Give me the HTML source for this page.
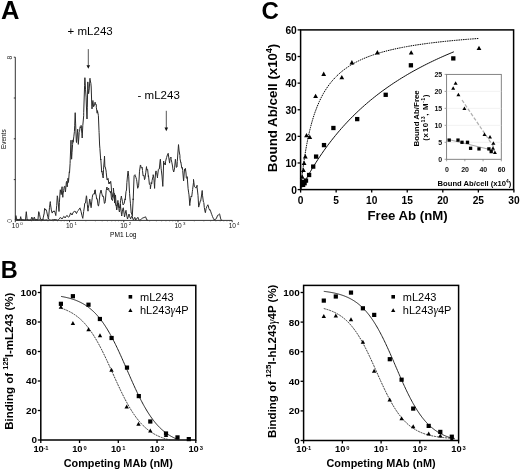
<!DOCTYPE html>
<html><head><meta charset="utf-8"><style>
html,body{margin:0;padding:0;background:#fff;}
svg{display:block;font-family:"Liberation Sans", sans-serif;filter:grayscale(1) blur(0.35px);}
</style></head><body>
<svg width="520" height="473" viewBox="0 0 520 473">
<rect width="520" height="473" fill="#fff"/>
<text x="1" y="19.2" font-size="25.5" font-weight="bold" text-anchor="start" fill="#000" >A</text>
<text x="67.6" y="35" font-size="11.5" font-weight="normal" text-anchor="start" fill="#000" >+ mL243</text>
<text x="137.6" y="98.6" font-size="11.5" font-weight="normal" text-anchor="start" fill="#000" >- mL243</text>
<line x1="88.3" y1="49.1" x2="88.3" y2="65.8" stroke="#444" stroke-width="0.9"/>
<polygon points="86.5,65.2 90.1,65.2 88.3,68.8" fill="#111"/>
<line x1="166.3" y1="110.8" x2="166.3" y2="128.2" stroke="#444" stroke-width="0.9"/>
<polygon points="164.5,127.6 168.1,127.6 166.3,131.2" fill="#111"/>
<path d="M15.3,57.2 V220.4 H232.2" fill="none" stroke="#333" stroke-width="1.0"/>
<line x1="13.8" y1="57.2" x2="15.3" y2="57.2" stroke="#222" stroke-width="0.9"/>
<line x1="13.8" y1="98.0" x2="15.3" y2="98.0" stroke="#222" stroke-width="0.9"/>
<line x1="13.8" y1="138.8" x2="15.3" y2="138.8" stroke="#222" stroke-width="0.9"/>
<line x1="13.8" y1="179.6" x2="15.3" y2="179.6" stroke="#222" stroke-width="0.9"/>
<line x1="15.3" y1="220.4" x2="15.3" y2="222.2" stroke="#222" stroke-width="0.9"/>
<line x1="31.62" y1="220.4" x2="31.62" y2="221.4" stroke="#444" stroke-width="0.6"/>
<line x1="41.17" y1="220.4" x2="41.17" y2="221.4" stroke="#444" stroke-width="0.6"/>
<line x1="47.95" y1="220.4" x2="47.95" y2="221.4" stroke="#444" stroke-width="0.6"/>
<line x1="53.2" y1="220.4" x2="53.2" y2="221.4" stroke="#444" stroke-width="0.6"/>
<line x1="57.5" y1="220.4" x2="57.5" y2="221.4" stroke="#444" stroke-width="0.6"/>
<line x1="61.13" y1="220.4" x2="61.13" y2="221.4" stroke="#444" stroke-width="0.6"/>
<line x1="64.27" y1="220.4" x2="64.27" y2="221.4" stroke="#444" stroke-width="0.6"/>
<line x1="67.04" y1="220.4" x2="67.04" y2="221.4" stroke="#444" stroke-width="0.6"/>
<text x="15.4" y="228.4" font-size="6.6" font-weight="normal" text-anchor="middle" fill="#111" >10</text>
<text x="20.2" y="225" font-size="4.4" font-weight="normal" text-anchor="start" fill="#111" >0</text>
<line x1="69.52" y1="220.4" x2="69.52" y2="222.2" stroke="#222" stroke-width="0.9"/>
<line x1="85.85" y1="220.4" x2="85.85" y2="221.4" stroke="#444" stroke-width="0.6"/>
<line x1="95.4" y1="220.4" x2="95.4" y2="221.4" stroke="#444" stroke-width="0.6"/>
<line x1="102.17" y1="220.4" x2="102.17" y2="221.4" stroke="#444" stroke-width="0.6"/>
<line x1="107.43" y1="220.4" x2="107.43" y2="221.4" stroke="#444" stroke-width="0.6"/>
<line x1="111.72" y1="220.4" x2="111.72" y2="221.4" stroke="#444" stroke-width="0.6"/>
<line x1="115.35" y1="220.4" x2="115.35" y2="221.4" stroke="#444" stroke-width="0.6"/>
<line x1="118.5" y1="220.4" x2="118.5" y2="221.4" stroke="#444" stroke-width="0.6"/>
<line x1="121.27" y1="220.4" x2="121.27" y2="221.4" stroke="#444" stroke-width="0.6"/>
<text x="69.62" y="228.4" font-size="6.6" font-weight="normal" text-anchor="middle" fill="#111" >10</text>
<text x="74.42" y="225" font-size="4.4" font-weight="normal" text-anchor="start" fill="#111" >1</text>
<line x1="123.75" y1="220.4" x2="123.75" y2="222.2" stroke="#222" stroke-width="0.9"/>
<line x1="140.07" y1="220.4" x2="140.07" y2="221.4" stroke="#444" stroke-width="0.6"/>
<line x1="149.62" y1="220.4" x2="149.62" y2="221.4" stroke="#444" stroke-width="0.6"/>
<line x1="156.4" y1="220.4" x2="156.4" y2="221.4" stroke="#444" stroke-width="0.6"/>
<line x1="161.65" y1="220.4" x2="161.65" y2="221.4" stroke="#444" stroke-width="0.6"/>
<line x1="165.95" y1="220.4" x2="165.95" y2="221.4" stroke="#444" stroke-width="0.6"/>
<line x1="169.58" y1="220.4" x2="169.58" y2="221.4" stroke="#444" stroke-width="0.6"/>
<line x1="172.72" y1="220.4" x2="172.72" y2="221.4" stroke="#444" stroke-width="0.6"/>
<line x1="175.49" y1="220.4" x2="175.49" y2="221.4" stroke="#444" stroke-width="0.6"/>
<text x="123.85" y="228.4" font-size="6.6" font-weight="normal" text-anchor="middle" fill="#111" >10</text>
<text x="128.65" y="225" font-size="4.4" font-weight="normal" text-anchor="start" fill="#111" >2</text>
<line x1="177.97" y1="220.4" x2="177.97" y2="222.2" stroke="#222" stroke-width="0.9"/>
<line x1="194.3" y1="220.4" x2="194.3" y2="221.4" stroke="#444" stroke-width="0.6"/>
<line x1="203.85" y1="220.4" x2="203.85" y2="221.4" stroke="#444" stroke-width="0.6"/>
<line x1="210.62" y1="220.4" x2="210.62" y2="221.4" stroke="#444" stroke-width="0.6"/>
<line x1="215.88" y1="220.4" x2="215.88" y2="221.4" stroke="#444" stroke-width="0.6"/>
<line x1="220.17" y1="220.4" x2="220.17" y2="221.4" stroke="#444" stroke-width="0.6"/>
<line x1="223.8" y1="220.4" x2="223.8" y2="221.4" stroke="#444" stroke-width="0.6"/>
<line x1="226.95" y1="220.4" x2="226.95" y2="221.4" stroke="#444" stroke-width="0.6"/>
<line x1="229.72" y1="220.4" x2="229.72" y2="221.4" stroke="#444" stroke-width="0.6"/>
<text x="178.07" y="228.4" font-size="6.6" font-weight="normal" text-anchor="middle" fill="#111" >10</text>
<text x="182.88" y="225" font-size="4.4" font-weight="normal" text-anchor="start" fill="#111" >3</text>
<line x1="232.2" y1="220.4" x2="232.2" y2="222.2" stroke="#222" stroke-width="0.9"/>
<text x="232.3" y="228.4" font-size="6.6" font-weight="normal" text-anchor="middle" fill="#111" >10</text>
<text x="237.1" y="225" font-size="4.4" font-weight="normal" text-anchor="start" fill="#111" >4</text>
<text x="123.3" y="237.4" font-size="6.6" font-weight="normal" text-anchor="middle" fill="#000" >PM1 Log</text>
<text x="0" y="0" font-size="6.4" font-weight="normal" text-anchor="middle" fill="#000" transform="translate(6.3,139.2) rotate(-90)">Events</text>
<text x="0" y="0" font-size="6.8" font-weight="normal" text-anchor="middle" fill="#333" transform="translate(11.9,57.6) rotate(-90)">8</text>
<text x="0" y="0" font-size="6.8" font-weight="normal" text-anchor="middle" fill="#333" transform="translate(12.2,220.9) rotate(-90)">0</text>
<polyline points="15.3,219.91 15.3,220 15.9,215.6 16.2,217.04 17,220 17.1,219.46 18,219.79 18.9,219.62 19.8,219.56 20,220 20.7,216.66 20.7,217 21.5,220 21.6,219.83 22.5,219.89 23.4,220.04 24.3,219.91 25.2,220.2 25.5,220 26.1,213.21 26.3,211.7 27,218.56 27.2,220 27.9,219.49 28.8,220.18 29.7,219.91 30.6,220.06 31,220 31.5,217.74 31.8,217 32.4,218.17 33,220 33.3,219.57 34.2,217.51 34.2,217 35.1,219.25 35.3,220 36,219.95 36.9,219.81 37.8,219.5 38,219 38.7,211.68 38.8,211.7 39.6,214.68 40.4,219 40.5,218.69 41.4,219.83 42.3,219.36 42.8,220 43.2,217.91 44,214 44.1,214.03 44.6,208.4 45,208.86 45.9,210.14 46.2,209.8 46.8,211.88 47.7,216.31 48.4,219 48.6,217.53 49.5,207.33 50.3,201.6 50.4,203.56 51.3,209.86 52,212.7 52.2,213.09 53.1,211.2 54,211.76 54.2,210.8 54.9,212.04 55.8,215.53 55.8,215.6 56.7,205.68 57.3,195.8 57.6,197.27 58.5,206.06 59,211.5 59.4,202.36 60,193 60.3,189.76 61.1,193.8 61.2,194.59 62.1,186.72 62.1,188.8 62.8,197.3 63,194.08 63.7,190.3 63.9,188.8 64.2,186.7 64.8,186.13 65.4,192 65.7,189.37 66.3,182.5 66.6,181.42 67.2,186.9 67.5,184.28 68,178.2 68.4,182.44 68.5,181.7 69.3,171.8 69.5,172.9 70.1,163.4 70.2,160.2 71,140.2 71.1,144.77 71.6,159.2 72,152.66 72.6,144.4 72.9,139.9 73.1,142.3 73.8,136.85 74.4,131.7 74.7,125.75 75.2,112.7 75.6,123.1 76.3,141 76.5,142.52 77.4,132.35 77.7,129.2 78.3,144.36 78.4,143.5 79.2,132.31 79.5,131.7 80.1,126.74 81,128.01 81.1,125.4 81.9,133.83 82.2,138 82.8,125.47 83.7,115.78 83.7,112.7 84.6,85.35 84.9,77.7 85.5,89.21 86.1,97.1 86.4,106.03 87,119 87.3,107.85 87.8,81.9 88.2,88.69 88.6,93.7 89.1,90.4 90,78.31 90,79.4 90.9,83.44 91.2,87 91.8,106.28 92,108.9 92.7,101.85 92.9,100.5 93.6,106.76 94.1,105.5 94.5,105.36 95.1,102.2 95.4,104.33 96.3,104.43 96.3,107.2 97.2,113.22 97.4,110.6 98.1,113.81 98.4,115.7 99,130.75 99.1,132.6 99.6,145 99.9,148.43 100.7,160 100.8,159.02 101.7,172.07 101.9,171 102.6,175.3 103.2,178 103.5,169.34 104.4,158.54 104.5,156 104.9,167 105.3,167.09 106.1,171 106.2,172.19 106.6,176 107.1,180.03 107.8,179 108,178.33 108.9,183.88 109.5,182 109.8,183.59 110.7,181.34 111.2,186 111.6,192.17 112.5,197.34 112.5,196 113.4,191.58 113.4,188 114.3,197.25 114.6,203 115.2,195.29 115.5,195 116.1,204.73 116.7,210 117,208.85 117.9,200.39 118,202 118.8,208.65 119.4,212 119.7,210.59 120.5,204 120.6,206.88 121.5,214.39 121.7,216 122.4,211.09 123.1,208 123.3,207.75 124.2,214.34 124.5,217 125.1,213.81 126,210.31 126,211 126.9,216.28 127.5,219 127.8,218.04 128.7,215.08 129,214 129.6,216.43 130.5,218.59 130.5,219 131.4,216.96 132,216 132.3,216.89 133.2,219.71 133.5,220 134.1,218.72 134.7,217.3 135,217.68 135.6,220 135.9,219.97 136.8,218.3 137.7,217.87 137.9,217.3 138.6,219.28 138.8,220 139.5,220.12 140.4,219.65 141.3,219.1 142.2,218.3 143.1,217.87 144,217.59 144.9,217.16 145.8,216.88 145.8,217.3 146.7,219.7 146.7,220 147.6,220.2 148,220" fill="none" stroke="#2a2a2a" stroke-width="1.0" stroke-linejoin="round"/>
<polyline points="15.3,219.93 15.3,220 16.2,219.49 17.1,220.05 18,219.93 18.9,219.91 19.8,219.82 20.7,219.68 21.6,220.13 22.5,219.78 23.4,219.75 24.3,220.13 25.2,220.03 26.1,219.61 27,220.01 27.9,219.66 28.8,220.2 29.7,220.2 30,220 30.6,219.99 31.5,220.2 32.4,219.55 33.3,220.01 34.2,219.53 35.1,219.92 36,219.56 36.9,219.6 37.8,220.1 38.7,219.7 39.6,219.58 40.5,219.7 41.4,219.84 42.3,219.97 43.2,219.68 44.1,220.15 45,219.98 45,220 45.9,219.96 46.8,219.79 47.7,220.18 48.6,219.91 49.5,219.41 50.4,219.95 51.3,220.19 52.2,219.64 53.1,220.02 54,219.38 54.9,219.58 55,219.5 55.8,219.56 56.7,219.72 57.6,220.2 58,220 58.5,219.47 59.4,218.9 60.2,217.5 60.3,217.63 61.2,217.88 62,219 62.1,218.7 63,217.85 63.7,216.4 63.9,216.54 64.8,217.24 65,218 65.7,216.93 66.6,215.66 67.2,215.5 67.5,216.41 68.4,217.03 69,217 69.3,216.59 70.2,214.11 70.6,212.9 71.1,214.17 72,214.49 72,215 72.9,212.95 73.8,211.8 74.1,211.2 74.7,211.41 75.6,211.6 76,213 76.5,213.55 77.4,211.27 77.6,211.2 78.3,210.51 79.2,209.05 80.1,207.89 80.2,208.6 81,211.23 81.9,215.35 82.8,218.36 82.8,218.1 83.7,211.39 84.5,206 84.6,203.46 85.5,203.05 86.4,195.78 86.6,196.4 87.3,204.2 88,211.2 88.2,208.31 89.1,204.1 89.7,199 90,200.23 90.9,206.45 91.1,207.7 91.8,201.17 92.3,197.3 92.7,195.04 93.6,193.71 94.5,194.01 94.6,190.3 95.4,189.91 95.5,193 96.3,196.12 96.6,199 97.2,198.68 98.1,205.62 98.5,206 99,203.31 99.9,194.21 100.5,192 100.8,190.4 101.1,190 101.7,193.15 102.6,196.46 102.8,196 103.5,196.24 104.4,203.43 104.9,203 105.3,201.59 106.2,190.46 107,187 107.1,189.72 108,189.38 108.7,188 108.9,190.68 109.8,191.21 110.6,193 110.7,191.36 111.6,199.54 112.5,200.54 112.5,200 113.4,196.49 114.3,193.3 114.3,195 115.2,202.87 116.1,205.67 116.1,206 117,205.01 117.9,204.18 118.4,203 118.8,205.93 119.7,208.1 119.8,208 120.6,200.29 121.4,196 121.5,197.16 122.4,201.24 123.1,205 123.3,204.74 124.2,203.42 125.1,198.76 125.2,200 126,191.59 126.5,190 126.9,182.45 127.8,172.94 128.1,171 128.7,176.2 129.2,187 129.6,193.71 130.1,200 130.5,203.8 131.2,213 131.4,212.93 132.3,215.49 132.3,216 133.2,198.73 133.2,200 134,178 134.1,175.77 135,174.69 135.3,175.7 135.9,177.34 136.6,179.7 136.8,181.17 137.7,188.31 138,187.5 138.6,185.77 139.2,177 139.5,171.22 140.4,164.96 140.6,165.2 141.3,168.18 142.2,167.23 142.5,170.5 143.1,175.93 144,175.37 144.5,179.7 144.9,178.82 145.8,172.29 146.5,166.6 146.7,169.85 147.6,169.25 148.4,177 148.5,175.64 149.4,184.37 150.3,185.24 150.4,188.8 151.2,182.47 151.7,184 152.1,180.49 153,176.59 153.2,174.7 153.9,178.33 154.6,188.4 154.8,182.77 155.7,171.36 156,170.9 156.6,172.47 157.5,177.91 157.5,176.7 158.4,169.51 158.9,168.9 159.3,169.02 160.2,160.01 160.4,159.2 161.1,168.25 161.4,170.9 162,176.03 162.8,186.4 162.9,184.42 163.7,161.1 163.8,164.61 164.7,163.16 165.3,165 165.6,161.22 166.5,157.78 166.7,157.2 167.4,154.98 168.2,153.3 168.3,154.05 169.2,160.49 169.6,163.1 170.1,158.51 171,157.04 171.1,159.2 171.9,162.74 172.7,167 172.8,168.8 173.7,172 174,170.9 174.6,167.88 175.4,159.2 175.5,159.71 176.4,167.36 177,167 177.3,161.31 178.2,148.95 178.5,144.6 179.1,150.97 179.9,155.3 180,158.7 180.8,162.7 180.9,162.38 181.8,168.21 182.4,167.5 182.7,170.56 183.5,180.2 183.6,181.01 184.5,169.28 184.8,170.6 185.4,168.38 186,173 186.3,177.7 187.1,178.6 187.2,176.63 188.1,188.7 188.7,192.9 189,194.86 189.8,205.6 189.9,203.52 190.8,197.5 191.1,196 191.7,196.9 192.4,191.3 192.6,189.64 193.5,182.4 193.5,179.4 194.4,186.67 194.6,186.5 195.3,187.37 195.9,188.1 196.2,187.94 197.1,185.28 197.1,187.3 198,195.3 198.7,207.1 198.9,205.98 199.8,203.09 200.3,200.8 200.7,200.99 201.6,195.03 202.2,190.5 202.5,195.2 203.4,202 203.8,202.4 204.3,207.5 205.2,212.23 205.4,212.7 206.1,208.55 206.7,207.1 207,206.22 207.9,204.76 208.3,205.6 208.8,208.33 209.7,210.18 209.8,209.5 210.6,211.13 211.5,213.93 211.7,214.3 212.4,216.3 213.3,218.33 214.1,219.8 214.2,219.42 215.1,219.42 216,218.94 216.5,218.3 216.9,217.01 217.8,215.17 218.1,215.1 218.7,214.7 219.6,213.86 219.7,214.3 220.5,218.1 221,219.8 221.4,220.11 222.1,220" fill="none" stroke="#2a2a2a" stroke-width="1.0" stroke-linejoin="round"/>
<text x="261.5" y="19.2" font-size="24" font-weight="bold" text-anchor="start" fill="#000" >C</text>
<rect x="300.6" y="29.9" width="213" height="159.7" fill="none" stroke="#000" stroke-width="1.5"/>
<line x1="297.6" y1="189.6" x2="300.6" y2="189.6" stroke="#000" stroke-width="1.3"/>
<text x="296.8" y="193.8" font-size="10.2" font-weight="bold" text-anchor="end" fill="#000" >0</text>
<line x1="297.6" y1="162.98" x2="300.6" y2="162.98" stroke="#000" stroke-width="1.3"/>
<text x="296.8" y="167.18" font-size="10.2" font-weight="bold" text-anchor="end" fill="#000" >10</text>
<line x1="297.6" y1="136.37" x2="300.6" y2="136.37" stroke="#000" stroke-width="1.3"/>
<text x="296.8" y="140.57" font-size="10.2" font-weight="bold" text-anchor="end" fill="#000" >20</text>
<line x1="297.6" y1="109.75" x2="300.6" y2="109.75" stroke="#000" stroke-width="1.3"/>
<text x="296.8" y="113.95" font-size="10.2" font-weight="bold" text-anchor="end" fill="#000" >30</text>
<line x1="297.6" y1="83.13" x2="300.6" y2="83.13" stroke="#000" stroke-width="1.3"/>
<text x="296.8" y="87.33" font-size="10.2" font-weight="bold" text-anchor="end" fill="#000" >40</text>
<line x1="297.6" y1="56.52" x2="300.6" y2="56.52" stroke="#000" stroke-width="1.3"/>
<text x="296.8" y="60.72" font-size="10.2" font-weight="bold" text-anchor="end" fill="#000" >50</text>
<line x1="297.6" y1="29.9" x2="300.6" y2="29.9" stroke="#000" stroke-width="1.3"/>
<text x="296.8" y="34.1" font-size="10.2" font-weight="bold" text-anchor="end" fill="#000" >60</text>
<line x1="300.6" y1="189.6" x2="300.6" y2="192.6" stroke="#000" stroke-width="1.3"/>
<text x="300.6" y="203.6" font-size="10.2" font-weight="bold" text-anchor="middle" fill="#000" >0</text>
<line x1="336.15" y1="189.6" x2="336.15" y2="192.6" stroke="#000" stroke-width="1.3"/>
<text x="336.15" y="203.6" font-size="10.2" font-weight="bold" text-anchor="middle" fill="#000" >5</text>
<line x1="371.7" y1="189.6" x2="371.7" y2="192.6" stroke="#000" stroke-width="1.3"/>
<text x="371.7" y="203.6" font-size="10.2" font-weight="bold" text-anchor="middle" fill="#000" >10</text>
<line x1="407.25" y1="189.6" x2="407.25" y2="192.6" stroke="#000" stroke-width="1.3"/>
<text x="407.25" y="203.6" font-size="10.2" font-weight="bold" text-anchor="middle" fill="#000" >15</text>
<line x1="442.8" y1="189.6" x2="442.8" y2="192.6" stroke="#000" stroke-width="1.3"/>
<text x="442.8" y="203.6" font-size="10.2" font-weight="bold" text-anchor="middle" fill="#000" >20</text>
<line x1="478.35" y1="189.6" x2="478.35" y2="192.6" stroke="#000" stroke-width="1.3"/>
<text x="478.35" y="203.6" font-size="10.2" font-weight="bold" text-anchor="middle" fill="#000" >25</text>
<line x1="513.9" y1="189.6" x2="513.9" y2="192.6" stroke="#000" stroke-width="1.3"/>
<text x="513.9" y="203.6" font-size="10.2" font-weight="bold" text-anchor="middle" fill="#000" >30</text>
<text x="407.6" y="219.6" font-size="13.2" font-weight="bold" text-anchor="middle" fill="#000" >Free Ab (nM)</text>
<text font-size="13.3" font-weight="bold" text-anchor="middle" transform="translate(277.2,108) rotate(-90)">Bound Ab/cell (x10<tspan font-size="8.6" dy="-5.4">4</tspan><tspan dy="5.4">)</tspan></text>
<polyline points="300.6,189.6 301.09,184.8 301.58,180.26 302.07,175.98 302.56,171.93 303.05,168.08 303.54,164.44 304.03,160.97 304.52,157.67 305.01,154.53 305.5,151.53 305.99,148.67 306.48,145.93 306.97,143.32 307.46,140.81 307.96,138.4 308.45,136.1 308.94,133.88 309.43,131.75 309.92,129.71 310.41,127.74 310.9,125.84 311.39,124.01 311.88,122.24 312.37,120.54 312.86,118.9 313.35,117.31 313.84,115.77 314.33,114.28 314.82,112.84 315.18,111.83 317.25,106.35 319.32,101.51 321.4,97.21 323.47,93.37 325.55,89.92 327.62,86.79 329.7,83.95 331.77,81.36 333.85,78.99 335.92,76.8 338,74.79 340.07,72.92 342.14,71.19 344.22,69.58 346.29,68.07 348.37,66.66 350.44,65.34 352.52,64.11 354.59,62.94 356.67,61.84 358.74,60.8 360.81,59.82 362.89,58.89 364.96,58.01 367.04,57.17 369.11,56.38 371.19,55.62 373.26,54.89 375.34,54.2 377.41,53.54 379.49,52.91 381.56,52.31 383.63,51.73 385.71,51.17 387.78,50.64 389.86,50.13 391.93,49.64 394.01,49.16 396.08,48.71 398.16,48.27 400.23,47.84 402.3,47.44 404.38,47.04 406.45,46.66 408.53,46.29 410.6,45.93 412.68,45.59 414.75,45.26 416.83,44.93 418.9,44.62 420.98,44.31 423.05,44.02 425.12,43.73 427.2,43.45 429.27,43.18 431.35,42.92 433.42,42.67 435.5,42.42 437.57,42.18 439.65,41.94 441.72,41.71 443.79,41.49 445.87,41.27 447.94,41.06 450.02,40.86 452.09,40.65 454.17,40.46 456.24,40.27 458.32,40.08 460.39,39.9 462.46,39.72 464.54,39.54 466.61,39.37 468.69,39.21 470.76,39.05 472.84,38.89 474.91,38.73 476.99,38.58 479.06,38.43" fill="none" stroke="#000" stroke-width="1.0" stroke-dasharray="1.5,0.8"/>
<polyline points="300.6,189.6 302.54,185.83 304.48,182.16 306.42,178.6 308.36,175.15 310.3,171.79 312.24,168.52 314.18,165.35 316.12,162.26 318.06,159.25 320,156.32 321.93,153.47 323.87,150.69 325.81,147.98 327.75,145.34 329.69,142.77 331.63,140.25 333.57,137.8 335.51,135.41 337.45,133.07 339.39,130.79 341.33,128.56 343.27,126.38 345.21,124.24 347.15,122.16 349.09,120.12 351.03,118.13 352.97,116.18 354.91,114.27 356.85,112.4 358.79,110.57 360.72,108.78 362.66,107.02 364.6,105.3 366.54,103.62 368.48,101.96 370.42,100.34 372.36,98.76 374.3,97.2 376.24,95.67 378.18,94.17 380.12,92.7 382.06,91.25 384,89.84 385.94,88.44 387.88,87.08 389.82,85.73 391.76,84.42 393.7,83.12 395.64,81.85 397.57,80.6 399.51,79.37 401.45,78.16 403.39,76.97 405.33,75.8 407.27,74.65 409.21,73.52 411.15,72.41 413.09,71.31 415.03,70.24 416.97,69.18 418.91,68.14 420.85,67.11 422.79,66.1 424.73,65.1 426.67,64.12 428.61,63.16 430.55,62.21 432.49,61.27 434.43,60.35 436.37,59.44 438.3,58.54 440.24,57.66 442.18,56.79 444.12,55.93 446.06,55.09 448,54.25 449.94,53.43 451.88,52.62 453.82,51.82" fill="none" stroke="#111" stroke-width="1.0"/>
<polygon points="302.2,174.42 299.8,178.72 304.6,178.72" fill="#000"/>
<polygon points="303.4,167.82 301,172.12 305.8,172.12" fill="#000"/>
<polygon points="304.1,160.72 301.7,165.02 306.5,165.02" fill="#000"/>
<polygon points="305.3,154.12 302.9,158.42 307.7,158.42" fill="#000"/>
<polygon points="306.5,133.02 304.1,137.32 308.9,137.32" fill="#000"/>
<polygon points="309.8,134.72 307.4,139.02 312.2,139.02" fill="#000"/>
<polygon points="315.6,93.72 313.2,98.02 318,98.02" fill="#000"/>
<polygon points="323.7,71.62 321.3,75.92 326.1,75.92" fill="#000"/>
<polygon points="341.8,74.92 339.4,79.22 344.2,79.22" fill="#000"/>
<polygon points="351.9,60.12 349.5,64.42 354.3,64.42" fill="#000"/>
<polygon points="377.4,50.12 375,54.42 379.8,54.42" fill="#000"/>
<polygon points="411.2,50.32 408.8,54.62 413.6,54.62" fill="#000"/>
<polygon points="479,45.72 476.6,50.02 481.4,50.02" fill="#000"/>
<rect x="300.25" y="179.75" width="4.3" height="4.3" fill="#000"/>
<rect x="300.95" y="182.75" width="4.3" height="4.3" fill="#000"/>
<rect x="302.45" y="181.05" width="4.3" height="4.3" fill="#000"/>
<rect x="303.85" y="178.45" width="4.3" height="4.3" fill="#000"/>
<rect x="306.95" y="172.85" width="4.3" height="4.3" fill="#000"/>
<rect x="311.05" y="164.45" width="4.3" height="4.3" fill="#000"/>
<rect x="313.95" y="154.45" width="4.3" height="4.3" fill="#000"/>
<rect x="321.85" y="142.95" width="4.3" height="4.3" fill="#000"/>
<rect x="331.25" y="125.85" width="4.3" height="4.3" fill="#000"/>
<rect x="355.05" y="116.95" width="4.3" height="4.3" fill="#000"/>
<rect x="383.55" y="92.65" width="4.3" height="4.3" fill="#000"/>
<rect x="408.75" y="63.15" width="4.3" height="4.3" fill="#000"/>
<rect x="451.15" y="56.25" width="4.3" height="4.3" fill="#000"/>
<rect x="446.6" y="74.4" width="54.7" height="84.9" fill="#fff" stroke="#777" stroke-width="0.9"/>
<line x1="446.6" y1="142.32" x2="501.3" y2="142.32" stroke="#ececec" stroke-width="0.7"/>
<line x1="446.6" y1="125.34" x2="501.3" y2="125.34" stroke="#ececec" stroke-width="0.7"/>
<line x1="446.6" y1="108.36" x2="501.3" y2="108.36" stroke="#ececec" stroke-width="0.7"/>
<line x1="446.6" y1="91.38" x2="501.3" y2="91.38" stroke="#ececec" stroke-width="0.7"/>
<line x1="444.6" y1="159.3" x2="446.6" y2="159.3" stroke="#777" stroke-width="0.7"/>
<text x="442.2" y="161.8" font-size="7.0" font-weight="bold" text-anchor="end" fill="#111" >0</text>
<line x1="444.6" y1="142.32" x2="446.6" y2="142.32" stroke="#777" stroke-width="0.7"/>
<text x="442.2" y="144.82" font-size="7.0" font-weight="bold" text-anchor="end" fill="#111" >5</text>
<line x1="444.6" y1="125.34" x2="446.6" y2="125.34" stroke="#777" stroke-width="0.7"/>
<text x="442.2" y="127.84" font-size="7.0" font-weight="bold" text-anchor="end" fill="#111" >10</text>
<line x1="444.6" y1="108.36" x2="446.6" y2="108.36" stroke="#777" stroke-width="0.7"/>
<text x="442.2" y="110.86" font-size="7.0" font-weight="bold" text-anchor="end" fill="#111" >15</text>
<line x1="444.6" y1="91.38" x2="446.6" y2="91.38" stroke="#777" stroke-width="0.7"/>
<text x="442.2" y="93.88" font-size="7.0" font-weight="bold" text-anchor="end" fill="#111" >20</text>
<line x1="444.6" y1="74.4" x2="446.6" y2="74.4" stroke="#777" stroke-width="0.7"/>
<text x="442.2" y="76.9" font-size="7.0" font-weight="bold" text-anchor="end" fill="#111" >25</text>
<line x1="446.6" y1="159.3" x2="446.6" y2="161.3" stroke="#777" stroke-width="0.7"/>
<text x="446.9" y="171.6" font-size="7.0" font-weight="bold" text-anchor="middle" fill="#111" >0</text>
<line x1="464.83" y1="159.3" x2="464.83" y2="161.3" stroke="#777" stroke-width="0.7"/>
<text x="465.13" y="171.6" font-size="7.0" font-weight="bold" text-anchor="middle" fill="#111" >20</text>
<line x1="483.07" y1="159.3" x2="483.07" y2="161.3" stroke="#777" stroke-width="0.7"/>
<text x="483.37" y="171.6" font-size="7.0" font-weight="bold" text-anchor="middle" fill="#111" >40</text>
<line x1="501.3" y1="159.3" x2="501.3" y2="161.3" stroke="#777" stroke-width="0.7"/>
<text x="501.6" y="171.6" font-size="7.0" font-weight="bold" text-anchor="middle" fill="#111" >60</text>
<text x="474.45" y="185.8" font-size="7.65" font-weight="bold" text-anchor="middle" fill="#000" >Bound Ab/cell (x10<tspan font-size="4.8" dy="-3.2">4</tspan><tspan dy="3.2">)</tspan></text>
<text font-size="7.9" font-weight="bold" text-anchor="middle" transform="translate(419,118.4) rotate(-90)">Bound Ab/Free</text>
<text font-size="7.9" font-weight="bold" text-anchor="middle" textLength="46" lengthAdjust="spacing" transform="translate(428.4,117.7) rotate(-90)">(x10<tspan font-size="4.6" dy="-3">13</tspan><tspan dy="3">, M</tspan><tspan font-size="4.6" dy="-3">-1</tspan><tspan dy="3">)</tspan></text>
<line x1="462" y1="100" x2="494.5" y2="148" stroke="#b0b0b0" stroke-width="1.25" stroke-dasharray="3.5,1.8"/>
<line x1="447.5" y1="139.3" x2="495" y2="150.8" stroke="#aaa" stroke-width="1.1"/>
<rect x="447.55" y="138.45" width="3.3" height="3.3" fill="#000"/>
<rect x="456.35" y="138.45" width="3.3" height="3.3" fill="#000"/>
<rect x="460.35" y="140.65" width="3.3" height="3.3" fill="#000"/>
<rect x="465.85" y="140.65" width="3.3" height="3.3" fill="#000"/>
<rect x="468.95" y="146.65" width="3.3" height="3.3" fill="#000"/>
<rect x="477.35" y="147.25" width="3.3" height="3.3" fill="#000"/>
<rect x="487.25" y="147.25" width="3.3" height="3.3" fill="#000"/>
<rect x="489.55" y="149.95" width="3.3" height="3.3" fill="#000"/>
<polygon points="455.6,81.2 453.6,84.7 457.6,84.7" fill="#000"/>
<polygon points="453.2,86.3 451.2,89.8 455.2,89.8" fill="#000"/>
<polygon points="458.4,92.7 456.4,96.2 460.4,96.2" fill="#000"/>
<polygon points="464.4,106.4 462.4,109.9 466.4,109.9" fill="#000"/>
<polygon points="484.5,132.5 482.5,136 486.5,136" fill="#000"/>
<polygon points="490,134.9 488,138.4 492,138.4" fill="#000"/>
<polygon points="493.4,141.3 491.4,144.8 495.4,144.8" fill="#000"/>
<polygon points="493,146.2 491,149.7 495,149.7" fill="#000"/>
<polygon points="494.9,150.4 492.9,153.9 496.9,153.9" fill="#000"/>
<text x="0.8" y="278.3" font-size="23.5" font-weight="bold" text-anchor="start" fill="#000" >B</text>
<rect x="40.8" y="285.4" width="155" height="154.6" fill="none" stroke="#000" stroke-width="1.5"/>
<line x1="37.8" y1="440" x2="40.8" y2="440" stroke="#000" stroke-width="1.3"/>
<text x="37" y="443.4" font-size="9.9" font-weight="bold" text-anchor="end" fill="#000" >0</text>
<line x1="37.8" y1="410.5" x2="40.8" y2="410.5" stroke="#000" stroke-width="1.3"/>
<text x="37" y="413.9" font-size="9.9" font-weight="bold" text-anchor="end" fill="#000" >20</text>
<line x1="37.8" y1="381" x2="40.8" y2="381" stroke="#000" stroke-width="1.3"/>
<text x="37" y="384.4" font-size="9.9" font-weight="bold" text-anchor="end" fill="#000" >40</text>
<line x1="37.8" y1="351.5" x2="40.8" y2="351.5" stroke="#000" stroke-width="1.3"/>
<text x="37" y="354.9" font-size="9.9" font-weight="bold" text-anchor="end" fill="#000" >60</text>
<line x1="37.8" y1="322" x2="40.8" y2="322" stroke="#000" stroke-width="1.3"/>
<text x="37" y="325.4" font-size="9.9" font-weight="bold" text-anchor="end" fill="#000" >80</text>
<line x1="37.8" y1="292.5" x2="40.8" y2="292.5" stroke="#000" stroke-width="1.3"/>
<text x="37" y="295.9" font-size="9.9" font-weight="bold" text-anchor="end" fill="#000" >100</text>
<line x1="40.8" y1="440" x2="40.8" y2="443" stroke="#000" stroke-width="1.3"/>
<text x="43.8" y="452.3" font-size="9.3" font-weight="bold" text-anchor="end" fill="#000" >10</text>
<text x="43.4" y="450" font-size="5.8" font-weight="bold" text-anchor="start" fill="#000" >-1</text>
<line x1="79.55" y1="440" x2="79.55" y2="443" stroke="#000" stroke-width="1.3"/>
<text x="82.55" y="452.3" font-size="9.3" font-weight="bold" text-anchor="end" fill="#000" >10</text>
<text x="83.55" y="450" font-size="5.8" font-weight="bold" text-anchor="start" fill="#000" >0</text>
<line x1="118.3" y1="440" x2="118.3" y2="443" stroke="#000" stroke-width="1.3"/>
<text x="121.3" y="452.3" font-size="9.3" font-weight="bold" text-anchor="end" fill="#000" >10</text>
<text x="122.3" y="450" font-size="5.8" font-weight="bold" text-anchor="start" fill="#000" >1</text>
<line x1="157.05" y1="440" x2="157.05" y2="443" stroke="#000" stroke-width="1.3"/>
<text x="160.05" y="452.3" font-size="9.3" font-weight="bold" text-anchor="end" fill="#000" >10</text>
<text x="161.05" y="450" font-size="5.8" font-weight="bold" text-anchor="start" fill="#000" >2</text>
<line x1="195.8" y1="440" x2="195.8" y2="443" stroke="#000" stroke-width="1.3"/>
<text x="198.8" y="452.3" font-size="9.3" font-weight="bold" text-anchor="end" fill="#000" >10</text>
<text x="199.8" y="450" font-size="5.8" font-weight="bold" text-anchor="start" fill="#000" >3</text>
<text x="118.25" y="467.1" font-size="10.85" font-weight="bold" text-anchor="middle" fill="#000" >Competing MAb (nM)</text>
<text font-size="11.5" font-weight="bold" text-anchor="start" transform="translate(12.9,429.8) rotate(-90)">Binding of <tspan font-size="7.5" dy="-4.6">125</tspan><tspan dy="4.6">I-mL243 (%)</tspan></text>
<rect x="128.6" y="295" width="3.6" height="3.6" fill="#000"/>
<polygon points="130.4,308.32 128.3,312.12 132.5,312.12" fill="#000"/>
<text x="140" y="300.8" font-size="11.0" font-weight="normal" text-anchor="start" fill="#000" >mL243</text>
<text x="140" y="313.8" font-size="11.0" font-weight="normal" text-anchor="start" fill="#000" >hL243<tspan font-family="Liberation Serif" font-style="italic" font-size="11.5">&#947;</tspan>4P</text>
<polyline points="61,296.42 61.66,296.53 62.31,296.65 62.97,296.77 63.63,296.89 64.29,297.02 64.94,297.16 65.6,297.3 66.26,297.44 66.92,297.6 67.57,297.75 68.23,297.92 68.89,298.09 69.54,298.26 70.2,298.45 70.86,298.63 71.52,298.83 72.17,299.04 72.83,299.25 73.49,299.47 74.15,299.69 74.8,299.93 75.46,300.17 76.12,300.43 76.77,300.69 77.43,300.96 78.09,301.25 78.75,301.54 79.4,301.84 80.06,302.15 80.72,302.48 81.38,302.82 82.03,303.16 82.69,303.53 83.35,303.9 84.01,304.28 84.66,304.68 85.32,305.1 85.98,305.52 86.63,305.97 87.29,306.42 87.95,306.89 88.61,307.38 89.26,307.89 89.92,308.41 90.58,308.94 91.24,309.5 91.89,310.07 92.55,310.66 93.21,311.26 93.86,311.89 94.52,312.54 95.18,313.2 95.84,313.89 96.49,314.59 97.15,315.32 97.81,316.06 98.47,316.83 99.12,317.62 99.78,318.43 100.44,319.26 101.09,320.11 101.75,320.99 102.41,321.89 103.07,322.81 103.72,323.75 104.38,324.72 105.04,325.71 105.7,326.72 106.35,327.76 107.01,328.81 107.67,329.89 108.32,331 108.98,332.12 109.64,333.27 110.3,334.44 110.95,335.63 111.61,336.85 112.27,338.08 112.93,339.33 113.58,340.61 114.24,341.9 114.9,343.22 115.55,344.55 116.21,345.9 116.87,347.26 117.53,348.64 118.18,350.04 118.84,351.45 119.5,352.88 120.16,354.32 120.81,355.76 121.47,357.23 122.13,358.69 122.78,360.17 123.44,361.66 124.1,363.15 124.76,364.65 125.41,366.15 126.07,367.66 126.73,369.16 127.39,370.67 128.04,372.18 128.7,373.68 129.36,375.19 130.02,376.68 130.67,378.18 131.33,379.66 131.99,381.14 132.64,382.62 133.3,384.08 133.96,385.53 134.62,386.97 135.27,388.4 135.93,389.81 136.59,391.21 137.25,392.59 137.9,393.96 138.56,395.31 139.22,396.65 139.87,397.96 140.53,399.26 141.19,400.53 141.85,401.79 142.5,403.03 143.16,404.25 143.82,405.44 144.48,406.61 145.13,407.76 145.79,408.89 146.45,410 147.1,411.08 147.76,412.15 148.42,413.18 149.08,414.2 149.73,415.19 150.39,416.16 151.05,417.11 151.71,418.03 152.36,418.94 153.02,419.82 153.68,420.67 154.33,421.51 154.99,422.32 155.65,423.11 156.31,423.88 156.96,424.63 157.62,425.36 158.28,426.07 158.94,426.75 159.59,427.42 160.25,428.07 160.91,428.7 161.56,429.31 162.22,429.9 162.88,430.48 163.54,431.03 164.19,431.57 164.85,432.09 165.51,432.6 166.17,433.09 166.82,433.56 167.48,434.02 168.14,434.47 168.79,434.89 169.45,435.31 170.11,435.71 170.77,436.1 171.42,436.47 172.08,436.84 172.74,437.19 173.4,437.53 174.05,437.85 174.71,438.17 175.37,438.47 176.03,438.77 176.68,439.05 177.34,439.32 178,439.59 178.65,439.84" fill="none" stroke="#222" stroke-width="1.0"/>
<polyline points="61,308.14 61.66,308.35 62.31,308.57 62.97,308.8 63.63,309.04 64.29,309.29 64.94,309.54 65.6,309.81 66.26,310.09 66.92,310.37 67.57,310.67 68.23,310.98 68.89,311.3 69.54,311.63 70.2,311.98 70.86,312.33 71.52,312.7 72.17,313.09 72.83,313.48 73.49,313.89 74.15,314.32 74.8,314.76 75.46,315.22 76.12,315.69 76.77,316.18 77.43,316.68 78.09,317.21 78.75,317.75 79.4,318.3 80.06,318.88 80.72,319.47 81.38,320.09 82.03,320.72 82.69,321.37 83.35,322.05 84.01,322.74 84.66,323.45 85.32,324.19 85.98,324.95 86.63,325.73 87.29,326.53 87.95,327.35 88.61,328.2 89.26,329.07 89.92,329.96 90.58,330.87 91.24,331.81 91.89,332.77 92.55,333.76 93.21,334.77 93.86,335.8 94.52,336.85 95.18,337.93 95.84,339.02 96.49,340.15 97.15,341.29 97.81,342.45 98.47,343.64 99.12,344.85 99.78,346.07 100.44,347.32 101.09,348.59 101.75,349.87 102.41,351.17 103.07,352.49 103.72,353.83 104.38,355.18 105.04,356.55 105.7,357.93 106.35,359.32 107.01,360.72 107.67,362.14 108.32,363.56 108.98,364.99 109.64,366.43 110.3,367.87 110.95,369.32 111.61,370.77 112.27,372.23 112.93,373.68 113.58,375.14 114.24,376.59 114.9,378.04 115.55,379.49 116.21,380.93 116.87,382.36 117.53,383.79 118.18,385.21 118.84,386.62 119.5,388.01 120.16,389.4 120.81,390.77 121.47,392.13 122.13,393.47 122.78,394.8 123.44,396.11 124.1,397.4 124.76,398.68 125.41,399.94 126.07,401.17 126.73,402.39 127.39,403.59 128.04,404.76 128.7,405.92 129.36,407.05 130.02,408.16 130.67,409.25 131.33,410.31 131.99,411.35 132.64,412.37 133.3,413.37 133.96,414.34 134.62,415.29 135.27,416.21 135.93,417.12 136.59,418 137.25,418.85 137.9,419.69 138.56,420.5 139.22,421.29 139.87,422.06 140.53,422.81 141.19,423.53 141.85,424.23 142.5,424.92 143.16,425.58 143.82,426.22 144.48,426.85 145.13,427.45 145.79,428.03 146.45,428.6 147.1,429.15 147.76,429.68 148.42,430.19 149.08,430.69 149.73,431.17 150.39,431.63 151.05,432.08 151.71,432.52 152.36,432.93 153.02,433.34 153.68,433.73 154.33,434.1 154.99,434.47 155.65,434.82 156.31,435.16 156.96,435.48 157.62,435.8 158.28,436.1 158.94,436.39 159.59,436.67 160.25,436.94 160.91,437.2 161.56,437.46 162.22,437.7 162.88,437.93 163.54,438.16 164.19,438.37 164.85,438.58 165.51,438.78 166.17,438.97 166.82,439.16 167.48,439.34 168.14,439.51 168.79,439.67 169.45,439.83 170.11,439.98" fill="none" stroke="#222" stroke-width="0.9" stroke-dasharray="2,0.8"/>
<rect x="58.8" y="301.7" width="4.2" height="4.2" fill="#000"/>
<rect x="70.8" y="294.1" width="4.2" height="4.2" fill="#000"/>
<rect x="86.4" y="302.6" width="4.2" height="4.2" fill="#000"/>
<rect x="97.8" y="316.9" width="4.2" height="4.2" fill="#000"/>
<rect x="109.5" y="335.9" width="4.2" height="4.2" fill="#000"/>
<rect x="124.9" y="365.5" width="4.2" height="4.2" fill="#000"/>
<rect x="136.7" y="394" width="4.2" height="4.2" fill="#000"/>
<rect x="148.2" y="419.4" width="4.2" height="4.2" fill="#000"/>
<rect x="163.9" y="431.4" width="4.2" height="4.2" fill="#000"/>
<rect x="175.4" y="435.3" width="4.2" height="4.2" fill="#000"/>
<rect x="186.7" y="437" width="4.2" height="4.2" fill="#000"/>
<polygon points="60.9,304.8 58.7,308.8 63.1,308.8" fill="#000"/>
<polygon points="72.9,321 70.7,325 75.1,325" fill="#000"/>
<polygon points="88.5,327.3 86.3,331.3 90.7,331.3" fill="#000"/>
<polygon points="100,333.3 97.8,337.3 102.2,337.3" fill="#000"/>
<polygon points="111.5,367.7 109.3,371.7 113.7,371.7" fill="#000"/>
<polygon points="126.7,404.4 124.5,408.4 128.9,408.4" fill="#000"/>
<polygon points="138.5,421.7 136.3,425.7 140.7,425.7" fill="#000"/>
<polygon points="150.3,428.6 148.1,432.6 152.5,432.6" fill="#000"/>
<polygon points="166,433 163.8,437 168.2,437" fill="#000"/>
<rect x="303.6" y="285.4" width="155" height="155.1" fill="none" stroke="#000" stroke-width="1.5"/>
<line x1="300.6" y1="440.5" x2="303.6" y2="440.5" stroke="#000" stroke-width="1.3"/>
<text x="299.8" y="443.9" font-size="9.9" font-weight="bold" text-anchor="end" fill="#000" >0</text>
<line x1="300.6" y1="410.9" x2="303.6" y2="410.9" stroke="#000" stroke-width="1.3"/>
<text x="299.8" y="414.3" font-size="9.9" font-weight="bold" text-anchor="end" fill="#000" >20</text>
<line x1="300.6" y1="381.3" x2="303.6" y2="381.3" stroke="#000" stroke-width="1.3"/>
<text x="299.8" y="384.7" font-size="9.9" font-weight="bold" text-anchor="end" fill="#000" >40</text>
<line x1="300.6" y1="351.7" x2="303.6" y2="351.7" stroke="#000" stroke-width="1.3"/>
<text x="299.8" y="355.1" font-size="9.9" font-weight="bold" text-anchor="end" fill="#000" >60</text>
<line x1="300.6" y1="322.1" x2="303.6" y2="322.1" stroke="#000" stroke-width="1.3"/>
<text x="299.8" y="325.5" font-size="9.9" font-weight="bold" text-anchor="end" fill="#000" >80</text>
<line x1="300.6" y1="292.5" x2="303.6" y2="292.5" stroke="#000" stroke-width="1.3"/>
<text x="299.8" y="295.9" font-size="9.9" font-weight="bold" text-anchor="end" fill="#000" >100</text>
<line x1="303.6" y1="440.5" x2="303.6" y2="443.5" stroke="#000" stroke-width="1.3"/>
<text x="306.6" y="452.3" font-size="9.3" font-weight="bold" text-anchor="end" fill="#000" >10</text>
<text x="306.2" y="450" font-size="5.8" font-weight="bold" text-anchor="start" fill="#000" >-1</text>
<line x1="342.35" y1="440.5" x2="342.35" y2="443.5" stroke="#000" stroke-width="1.3"/>
<text x="345.35" y="452.3" font-size="9.3" font-weight="bold" text-anchor="end" fill="#000" >10</text>
<text x="346.35" y="450" font-size="5.8" font-weight="bold" text-anchor="start" fill="#000" >0</text>
<line x1="381.1" y1="440.5" x2="381.1" y2="443.5" stroke="#000" stroke-width="1.3"/>
<text x="384.1" y="452.3" font-size="9.3" font-weight="bold" text-anchor="end" fill="#000" >10</text>
<text x="385.1" y="450" font-size="5.8" font-weight="bold" text-anchor="start" fill="#000" >1</text>
<line x1="419.85" y1="440.5" x2="419.85" y2="443.5" stroke="#000" stroke-width="1.3"/>
<text x="422.85" y="452.3" font-size="9.3" font-weight="bold" text-anchor="end" fill="#000" >10</text>
<text x="423.85" y="450" font-size="5.8" font-weight="bold" text-anchor="start" fill="#000" >2</text>
<line x1="458.6" y1="440.5" x2="458.6" y2="443.5" stroke="#000" stroke-width="1.3"/>
<text x="461.6" y="452.3" font-size="9.3" font-weight="bold" text-anchor="end" fill="#000" >10</text>
<text x="462.6" y="450" font-size="5.8" font-weight="bold" text-anchor="start" fill="#000" >3</text>
<text x="381.05" y="467.1" font-size="10.85" font-weight="bold" text-anchor="middle" fill="#000" >Competing MAb (nM)</text>
<text font-size="11.5" font-weight="bold" text-anchor="start" transform="translate(275.5,437.9) rotate(-90)">Binding of <tspan font-size="8" dy="-4.6">125</tspan><tspan dy="4.6">I-hL243</tspan><tspan font-family="Liberation Serif" font-style="italic" font-weight="normal" font-size="12">&#947;</tspan><tspan>4P (%)</tspan></text>
<rect x="391.4" y="295" width="3.6" height="3.6" fill="#000"/>
<polygon points="393.2,308.32 391.1,312.12 395.3,312.12" fill="#000"/>
<text x="402.8" y="300.8" font-size="11.0" font-weight="normal" text-anchor="start" fill="#000" >mL243</text>
<text x="402.8" y="313.8" font-size="11.0" font-weight="normal" text-anchor="start" fill="#000" >hL243<tspan font-family="Liberation Serif" font-style="italic" font-size="11.5">&#947;</tspan>4P</text>
<polyline points="323.8,291.35 324.46,291.43 325.11,291.51 325.77,291.6 326.43,291.68 327.09,291.78 327.74,291.87 328.4,291.97 329.06,292.07 329.72,292.18 330.37,292.29 331.03,292.41 331.69,292.53 332.34,292.65 333,292.78 333.66,292.91 334.32,293.05 334.97,293.2 335.63,293.35 336.29,293.51 336.95,293.67 337.6,293.84 338.26,294.01 338.92,294.19 339.57,294.38 340.23,294.58 340.89,294.78 341.55,294.99 342.2,295.21 342.86,295.44 343.52,295.67 344.18,295.92 344.83,296.17 345.49,296.43 346.15,296.71 346.81,296.99 347.46,297.28 348.12,297.58 348.78,297.9 349.43,298.22 350.09,298.56 350.75,298.91 351.41,299.27 352.06,299.64 352.72,300.03 353.38,300.43 354.04,300.85 354.69,301.28 355.35,301.72 356.01,302.18 356.66,302.65 357.32,303.14 357.98,303.65 358.64,304.17 359.29,304.71 359.95,305.27 360.61,305.84 361.27,306.44 361.92,307.05 362.58,307.68 363.24,308.33 363.89,309 364.55,309.69 365.21,310.4 365.87,311.14 366.52,311.89 367.18,312.66 367.84,313.46 368.5,314.28 369.15,315.12 369.81,315.98 370.47,316.87 371.12,317.78 371.78,318.71 372.44,319.66 373.1,320.64 373.75,321.65 374.41,322.67 375.07,323.72 375.73,324.79 376.38,325.89 377.04,327.01 377.7,328.15 378.35,329.31 379.01,330.5 379.67,331.71 380.33,332.94 380.98,334.19 381.64,335.46 382.3,336.75 382.96,338.07 383.61,339.4 384.27,340.75 384.93,342.12 385.58,343.51 386.24,344.91 386.9,346.33 387.56,347.76 388.21,349.21 388.87,350.67 389.53,352.14 390.19,353.62 390.84,355.11 391.5,356.61 392.16,358.12 392.82,359.64 393.47,361.16 394.13,362.68 394.79,364.21 395.44,365.73 396.1,367.26 396.76,368.79 397.42,370.32 398.07,371.84 398.73,373.36 399.39,374.87 400.05,376.37 400.7,377.87 401.36,379.36 402.02,380.84 402.67,382.31 403.33,383.77 403.99,385.21 404.65,386.64 405.3,388.05 405.96,389.45 406.62,390.83 407.28,392.19 407.93,393.54 408.59,394.87 409.25,396.17 409.9,397.46 410.56,398.73 411.22,399.97 411.88,401.2 412.53,402.4 413.19,403.58 413.85,404.74 414.51,405.87 415.16,406.98 415.82,408.07 416.48,409.14 417.13,410.18 417.79,411.2 418.45,412.19 419.11,413.16 419.76,414.11 420.42,415.04 421.08,415.94 421.74,416.82 422.39,417.67 423.05,418.51 423.71,419.32 424.36,420.11 425.02,420.88 425.68,421.62 426.34,422.35 426.99,423.05 427.65,423.74 428.31,424.4 428.97,425.05 429.62,425.67 430.28,426.28 430.94,426.87 431.59,427.44 432.25,427.99 432.91,428.53 433.57,429.04 434.22,429.54 434.88,430.03 435.54,430.5 436.2,430.95 436.85,431.39 437.51,431.82 438.17,432.23 438.83,432.62 439.48,433.01 440.14,433.38 440.8,433.74 441.45,434.08 442.11,434.41 442.77,434.74 443.43,435.05 444.08,435.35 444.74,435.64 445.4,435.92 446.06,436.18 446.71,436.44 447.37,436.69 448.03,436.94 448.68,437.17 449.34,437.39 450,437.61 450.66,437.82 451.31,438.02 451.97,438.21 452.63,438.4 453.29,438.58 453.94,438.75 454.6,438.92" fill="none" stroke="#222" stroke-width="1.0"/>
<polyline points="323.8,308.54 324.46,308.7 325.11,308.88 325.77,309.06 326.43,309.25 327.09,309.45 327.74,309.65 328.4,309.87 329.06,310.09 329.72,310.32 330.37,310.56 331.03,310.82 331.69,311.08 332.34,311.35 333,311.63 333.66,311.93 334.32,312.24 334.97,312.55 335.63,312.89 336.29,313.23 336.95,313.59 337.6,313.96 338.26,314.34 338.92,314.75 339.57,315.16 340.23,315.59 340.89,316.04 341.55,316.5 342.2,316.99 342.86,317.48 343.52,318 344.18,318.54 344.83,319.09 345.49,319.66 346.15,320.26 346.81,320.87 347.46,321.51 348.12,322.16 348.78,322.84 349.43,323.54 350.09,324.26 350.75,325.01 351.41,325.77 352.06,326.57 352.72,327.38 353.38,328.22 354.04,329.08 354.69,329.97 355.35,330.88 356.01,331.82 356.66,332.78 357.32,333.77 357.98,334.78 358.64,335.82 359.29,336.88 359.95,337.97 360.61,339.08 361.27,340.21 361.92,341.37 362.58,342.55 363.24,343.75 363.89,344.98 364.55,346.23 365.21,347.49 365.87,348.78 366.52,350.09 367.18,351.42 367.84,352.76 368.5,354.13 369.15,355.5 369.81,356.9 370.47,358.3 371.12,359.72 371.78,361.15 372.44,362.59 373.1,364.04 373.75,365.5 374.41,366.96 375.07,368.43 375.73,369.9 376.38,371.37 377.04,372.85 377.7,374.32 378.35,375.79 379.01,377.25 379.67,378.72 380.33,380.17 380.98,381.62 381.64,383.05 382.3,384.48 382.96,385.9 383.61,387.3 384.27,388.69 384.93,390.06 385.58,391.42 386.24,392.76 386.9,394.08 387.56,395.38 388.21,396.67 388.87,397.93 389.53,399.17 390.19,400.39 390.84,401.59 391.5,402.76 392.16,403.91 392.82,405.04 393.47,406.14 394.13,407.22 394.79,408.27 395.44,409.3 396.1,410.31 396.76,411.29 397.42,412.24 398.07,413.17 398.73,414.07 399.39,414.95 400.05,415.81 400.7,416.64 401.36,417.45 402.02,418.24 402.67,419 403.33,419.73 403.99,420.45 404.65,421.14 405.3,421.81 405.96,422.46 406.62,423.09 407.28,423.7 407.93,424.29 408.59,424.85 409.25,425.4 409.9,425.93 410.56,426.44 411.22,426.94 411.88,427.41 412.53,427.87 413.19,428.32 413.85,428.74 414.51,429.15 415.16,429.55 415.82,429.93 416.48,430.3 417.13,430.65 417.79,430.99 418.45,431.32 419.11,431.64 419.76,431.94 420.42,432.23 421.08,432.51 421.74,432.78 422.39,433.04 423.05,433.29 423.71,433.52 424.36,433.75 425.02,433.97 425.68,434.19 426.34,434.39 426.99,434.58 427.65,434.77 428.31,434.95 428.97,435.12 429.62,435.29 430.28,435.45 430.94,435.6 431.59,435.75 432.25,435.89 432.91,436.02 433.57,436.15 434.22,436.27 434.88,436.39 435.54,436.51 436.2,436.61 436.85,436.72 437.51,436.82 438.17,436.92 438.83,437.01 439.48,437.1 440.14,437.18 440.8,437.26 441.45,437.34 442.11,437.41 442.77,437.48 443.43,437.55 444.08,437.62 444.74,437.68 445.4,437.74 446.06,437.8 446.71,437.85 447.37,437.91 448.03,437.96 448.68,438.01 449.34,438.05 450,438.1 450.66,438.14 451.31,438.18 451.97,438.22 452.63,438.26 453.29,438.29 453.94,438.33 454.6,438.36" fill="none" stroke="#222" stroke-width="0.9" stroke-dasharray="2,0.8"/>
<rect x="321.7" y="298.5" width="4.2" height="4.2" fill="#000"/>
<rect x="333.7" y="294.4" width="4.2" height="4.2" fill="#000"/>
<rect x="348.9" y="290.5" width="4.2" height="4.2" fill="#000"/>
<rect x="360.8" y="306.2" width="4.2" height="4.2" fill="#000"/>
<rect x="372.1" y="312.8" width="4.2" height="4.2" fill="#000"/>
<rect x="387.7" y="357.1" width="4.2" height="4.2" fill="#000"/>
<rect x="399.5" y="377.6" width="4.2" height="4.2" fill="#000"/>
<rect x="411.1" y="406.5" width="4.2" height="4.2" fill="#000"/>
<rect x="426.6" y="423.8" width="4.2" height="4.2" fill="#000"/>
<rect x="438.2" y="429.8" width="4.2" height="4.2" fill="#000"/>
<rect x="449.7" y="434.6" width="4.2" height="4.2" fill="#000"/>
<polygon points="323.8,313.9 321.6,317.9 326,317.9" fill="#000"/>
<polygon points="335.8,313.4 333.6,317.4 338,317.4" fill="#000"/>
<polygon points="351,317.3 348.8,321.3 353.2,321.3" fill="#000"/>
<polygon points="362.9,339.8 360.7,343.8 365.1,343.8" fill="#000"/>
<polygon points="374.1,368.7 371.9,372.7 376.3,372.7" fill="#000"/>
<polygon points="389.7,397.4 387.5,401.4 391.9,401.4" fill="#000"/>
<polygon points="401.6,416.3 399.4,420.3 403.8,420.3" fill="#000"/>
<polygon points="413.2,424.3 411,428.3 415.4,428.3" fill="#000"/>
<polygon points="428.7,431.5 426.5,435.5 430.9,435.5" fill="#000"/>
<polygon points="440.3,433.5 438.1,437.5 442.5,437.5" fill="#000"/>
<polygon points="451.8,436.8 449.6,440.8 454,440.8" fill="#000"/>
</svg>
</body></html>
